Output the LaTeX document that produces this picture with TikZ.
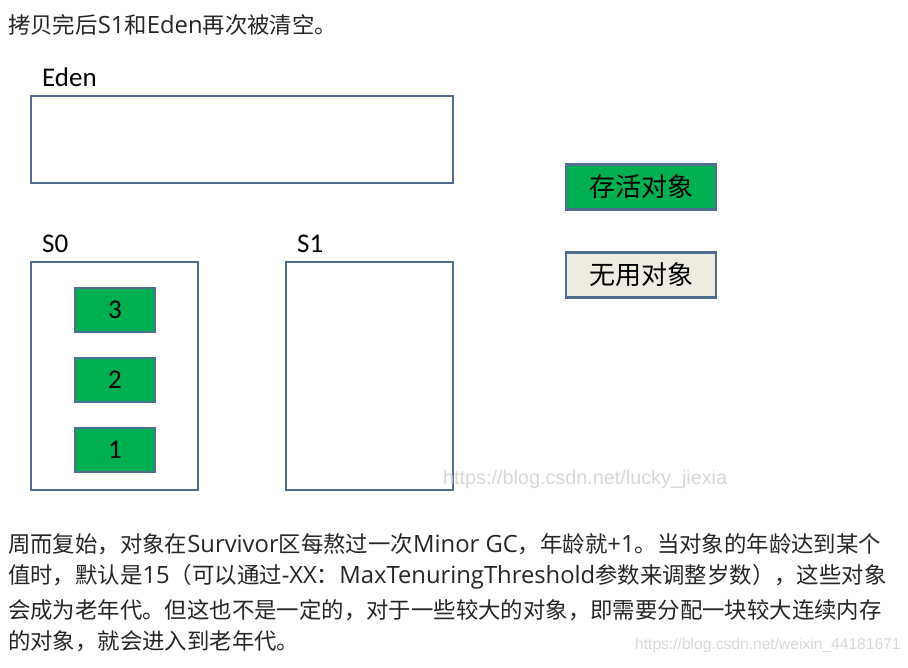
\documentclass[tikz,border=0pt]{standalone}
\usepackage{fontspec}
\setmainfont{Noto Sans CJK SC}
\newfontfamily\labelfont{Carlito}
\newfontfamily\wmfont{Liberation Sans}
\newfontfamily\latinfont{Open Sans}
\newcommand{\lat}[1]{{\latinfont\fontsize{23.8}{23.8}\selectfont #1}}
\usepackage{tikz}
\definecolor{frame}{RGB}{80,110,145}
\definecolor{alive}{RGB}{0,176,80}
\definecolor{dead}{RGB}{238,236,225}
\definecolor{mark}{RGB}{215,215,215}

\begin{document}
\begin{tikzpicture}[x=1pt, y=-1pt,
  area/.style={draw=frame, line width=2.6pt, fill=white},
  obj/.style={draw=frame, line width=2pt, fill=alive,
              minimum width=80pt, minimum height=44pt, inner sep=0pt,
              font=\labelfont\fontsize{27}{27}\selectfont},
  key/.style={draw=frame, line width=2.4pt, minimum width=150pt,
              minimum height=45pt, inner sep=0pt,
              font=\fontsize{26}{26}\selectfont},
  zone/.style={anchor=west, inner sep=0pt,
               font=\labelfont\fontsize{27}{27}\selectfont},
  para/.style={anchor=west, inner sep=0pt, text=black!85,
               font=\fontsize{22.4}{22.4}\selectfont},
  wmark/.style={anchor=west, inner sep=0pt, text=mark,
                font=\wmfont\fontsize{19.8}{19.8}\selectfont}
]
\useasboundingbox (0,0) rectangle (908,668);
% ── Heading ───────────────────────────
\node[para] (head) at (8,25) {拷贝完后\lat{S1}和\lat{Eden}再次被清空。};
% ── Eden ──────────────────────────────
\node[zone] (edenlbl) at (42,77) {Eden};
\draw[area] (31,96) rectangle (453,183);
% ── S0 with three live objects ────────
\node[zone] (s0lbl) at (42,244) {S0};
\draw[area] (31,262) rectangle (198,490);
\node[obj] (o3) at (115,310) {3};
\node[obj] (o2) at (115,380) {2};
\node[obj] (o1) at (115,450) {1};
% ── S1 (empty) ────────────────────────
\node[zone] (s1lbl) at (297,244) {S1};
\draw[area] (286,262) rectangle (453,490);
% ── Legend ────────────────────────────
\node[key, fill=alive] (live) at (641,187) {存活对象};
\node[key, fill=dead] (junk) at (641,275) {无用对象};
% ── Watermarks ────────────────────────
\node[wmark] (wm1) at (443,479) {https://blog.csdn.net/lucky\_jiexia};
\node[wmark, font=\wmfont\fontsize{15.6}{15.6}\selectfont] (wm2) at (635,645)
  {https://blog.csdn.net/weixin\_44181671};
% ── Closing paragraph ─────────────────
\node[para] (l1) at (8,544) {周而复始，对象在\lat{Survivor}区每熬过一次\lat{Minor GC}，年龄就\lat{+1}。当对象的年龄达到某个};
\node[para] (l2) at (8,577) {值时，默认是\lat{15}（可以通过\lat{-XX}：\lat{MaxTenuringThreshold}参数来调整岁数），这些对象};
\node[para] (l3) at (8,610) {会成为老年代。但这也不是一定的，对于一些较大的对象，即需要分配一块较大连续内存};
\node[para] (l4) at (8,641) {的对象，就会进入到老年代。};
\end{tikzpicture}
\end{document}
